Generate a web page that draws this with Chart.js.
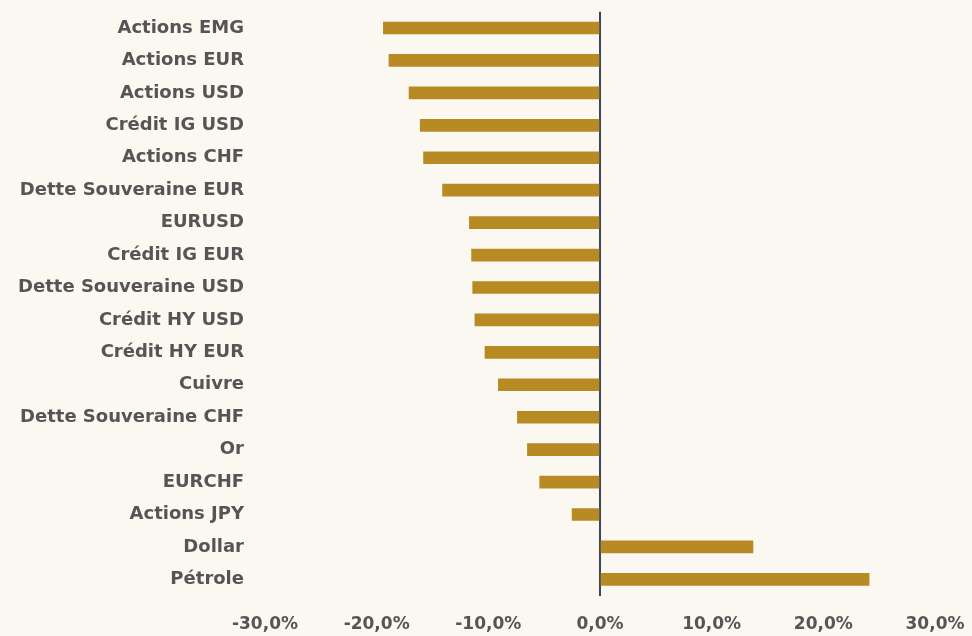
<!DOCTYPE html>
<html>
<head>
<meta charset="utf-8">
<script src="https://cdn.jsdelivr.net/npm/chart.js@4"></script>
<style>
    html, body { margin: 0; padding: 0; background: #FBF8F1; }
    #wrap { width: 972px; height: 636px; position: relative; }
</style>
</head>
<body>
<div id="wrap"><canvas id="chart"></canvas></div>
<script>
const categories = ["Actions EMG", "Actions EUR", "Actions USD", "Crédit IG USD", "Actions CHF",
    "Dette Souveraine EUR", "EURUSD", "Crédit IG EUR", "Dette Souveraine USD", "Crédit HY USD",
    "Crédit HY EUR", "Cuivre", "Dette Souveraine CHF", "Or", "EURCHF", "Actions JPY", "Dollar", "Pétrole"];
const performance = [-19.4, -18.9, -17.1, -16.1, -15.8, -14.1, -11.7, -11.5, -11.4, -11.2,
    -10.3, -9.1, -7.4, -6.5, -5.4, -2.5, 13.7, 24.1];
const xTicks = [-30, -20, -10, 0, 10, 20, 30];

const tickFont = { family: "DejaVu Sans", size: 17, weight: "bold" };
const catFont = { family: "DejaVu Sans", size: 18, weight: "bold" };

new Chart(document.getElementById("chart"), {
    type: "bar",
    data: {
        labels: categories,
        datasets: [{
            data: performance,
            backgroundColor: "#B78A24",
            borderWidth: 0,
            barThickness: 12
        }]
    },
    options: {
        indexAxis: "y",
        responsive: true,
        maintainAspectRatio: false,
        animation: false,
        layout: { padding: { top: 0, right: 7, bottom: 0, left: 0 } },
        plugins: { legend: { display: false }, tooltip: { enabled: false } },
        scales: {
            x: {
                min: -30,
                max: 30,
                afterBuildTicks: axis => { axis.ticks = xTicks.map(v => ({ value: v })); },
                afterFit: axis => { axis.paddingRight = 37; },
                ticks: {
                    color: "#555555",
                    font: tickFont,
                    padding: 1,
                    callback: v => v.toFixed(1).replace(".", ",") + "%"
                },
                border: { display: false },
                grid: {
                    drawTicks: true,
                    tickLength: 18,
                    tickColor: "rgba(0,0,0,0)",
                    lineWidth: 2,
                    color: ctx => ctx.tick && ctx.tick.value === 0 ? "#3D4459" : "rgba(0,0,0,0)"
                }
            },
            y: {
                ticks: { color: "#555555", font: catFont, padding: 1 },
                border: { display: false },
                grid: { display: false, drawTicks: true, tickLength: 20 },
                afterFit: axis => { axis.width = 265; }
            }
        }
    }
});
</script>
</body>
</html>
